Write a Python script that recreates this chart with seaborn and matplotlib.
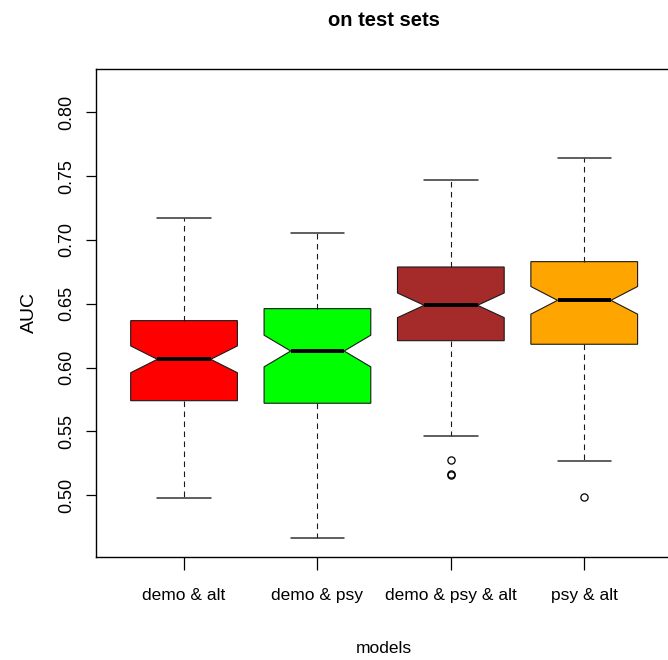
import numpy as np
import pandas as pd
import matplotlib
matplotlib.use("Agg")
import matplotlib.pyplot as plt
import seaborn as sns
from matplotlib import font_manager as fm

# ---- data ----
models = ["demo & alt", "demo & psy", "demo & psy & alt", "psy & alt"]
box_colors = ["#FF0000", "#00FF00", "#A52A2A", "#FFA500"]
whisker_low = [0.4979, 0.4666, 0.5467, 0.5269]
q1 = [0.5741, 0.5721, 0.6211, 0.6183]
median = [0.6065, 0.6130, 0.6488, 0.6527]
q3 = [0.6368, 0.6462, 0.6788, 0.6830]
whisker_high = [0.7172, 0.7055, 0.7470, 0.7640]
outliers = [[], [], [0.5159, 0.5166, 0.5279], [0.4984]]
n_runs = 88  # runs per model (estimated from notch widths)
yticks = [0.50, 0.55, 0.60, 0.65, 0.70, 0.75, 0.80]
ytick_labels = ["0.50", "0.55", "0.60", "0.65", "0.70", "0.75", "0.80"]

# ---- long-form table reproducing each model's five-number summary ----
half = n_runs // 2
rows = []
for m, lo, a, med, b, hi, outs in zip(models, whisker_low, q1, median, q3,
                                       whisker_high, outliers):
    k = len(outs)
    vals = np.concatenate([
        np.array(outs, dtype=float),
        [lo],
        np.repeat(a, half - 2 - k),
        np.repeat(med, 2),
        np.repeat(b, n_runs - half - 2),
        [hi],
    ])
    rows.append(pd.DataFrame({"model": m, "AUC": vals}))
df = pd.concat(rows, ignore_index=True)

# ---- style ----
sns.set_theme(style="ticks")
names = {f.name for f in fm.fontManager.ttflist}
narrow = "Liberation Sans Narrow" if "Liberation Sans Narrow" in names else None
plt.rcParams["font.family"] = ["Liberation Sans", "DejaVu Sans"]
plt.rcParams["axes.edgecolor"] = "black"
plt.rcParams["axes.linewidth"] = 1.0

if narrow:
    xfam, xsize, tsize = [narrow, "DejaVu Sans"], 14.5, 16
else:
    xfam, xsize, tsize = ["Liberation Sans", "DejaVu Sans"], 12.5, 14.5

fig = plt.figure(figsize=(6.68, 6.60), dpi=100)
fig.patch.set_facecolor("white")
ax = fig.add_axes([0.1433, 0.1561, 0.8635, 0.7394])
ax.set_facecolor("white")

edge = "#1a1a1a"
sns.boxplot(
    data=df, x="model", y="AUC", hue="model", order=models, hue_order=models,
    palette=box_colors, saturation=1, notch=True, width=0.8, whis=1.5,
    dodge=False, legend=False, linecolor=edge, linewidth=0.8, ax=ax,
    medianprops=dict(color="black", linewidth=2.8, solid_capstyle="butt"),
    whiskerprops=dict(color=edge, linewidth=0.8, linestyle=(0, (5, 4))),
    capprops=dict(color="#333333", linewidth=1.1),
    flierprops=dict(marker="o", markersize=5.2, markerfacecolor="none",
                    markeredgecolor="black", markeredgewidth=0.9),
)

ax.set_xlim(-0.662, 3.662)
ax.set_ylim(0.4517, 0.8339)
ax.set_yticks(yticks)
ax.set_yticklabels(ytick_labels)

for s in ax.spines.values():
    s.set_visible(True)
    s.set_color("black")
    s.set_linewidth(1.0)

ax.tick_params(axis="x", length=9.4, width=0.9, pad=13, labelsize=xsize,
               colors="black", direction="out")
ax.tick_params(axis="y", length=7, width=0.9, pad=8, labelsize=13,
               colors="black", direction="out", labelrotation=90)
for lab in ax.get_yticklabels():
    lab.set_va("center")
for lab in ax.get_xticklabels():
    lab.set_fontfamily(xfam)

ax.set_xlabel("models", fontsize=xsize, family=xfam, labelpad=27, color="black")
ax.set_ylabel("AUC", fontsize=14, labelpad=14, color="black")
ax.set_title("on test sets", fontsize=tsize, fontweight="bold",
             family=xfam, pad=31, color="black")

fig.savefig("out.png", dpi=100, facecolor="white")
